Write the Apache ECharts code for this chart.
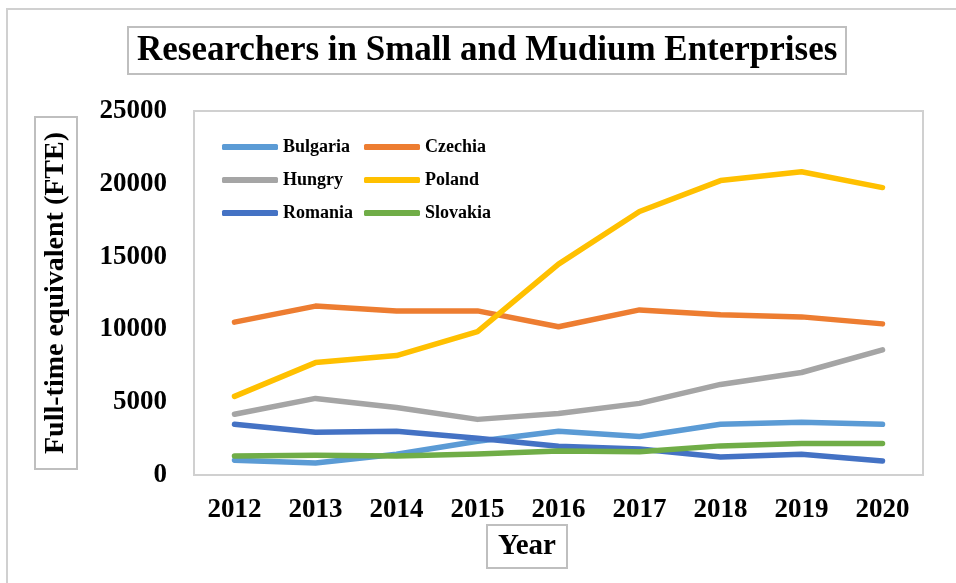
<!DOCTYPE html>
<html>
<head>
<meta charset="utf-8" />
<script type="text/javascript" src="https://cdn.jsdelivr.net/npm/echarts@6/dist/echarts.min.js"></script>
<title></title>
<style>
  html, body { margin: 0; padding: 0; background: #fff; }
  #main { width: 956px; height: 583px; }
</style>
</head>
<body>
<div id="main"></div>
<script>
// 数据
var years = ['2012', '2013', '2014', '2015', '2016', '2017', '2018', '2019', '2020'];
var bulgaria = [1020, 820, 1430, 2320, 3000, 2650, 3480, 3620, 3480];
var czechia  = [10500, 11600, 11270, 11270, 10180, 11340, 11000, 10860, 10380];
var hungry   = [4170, 5260, 4640, 3820, 4230, 4920, 6220, 7040, 8600];
var poland   = [5400, 7720, 8200, 9840, 14480, 18100, 20220, 20830, 19740];
var romania  = [3480, 2940, 3000, 2530, 1980, 1780, 1230, 1430, 960];
var slovakia = [1300, 1350, 1300, 1450, 1650, 1600, 2000, 2170, 2170];

var font = 'Liberation Serif';

function line(name, data, color) {
  return {
    name: name,
    type: 'line',
    data: data,
    showSymbol: false,
    symbol: 'none',
    color: color,
    lineStyle: { width: 5.5, color: color, cap: 'round', join: 'round' }
  };
}

var legendText = { fontFamily: font, fontSize: 18, fontWeight: 'bold', color: '#000', lineHeight: 20 };

var chart = echarts.init(document.getElementById('main'));
chart.setOption({
  animation: false,
  backgroundColor: '#fff',
  textStyle: { fontFamily: font },
  title: [{
    text: 'Researchers in Small and Mudium Enterprises',
    left: 128, top: 27,
    padding: [6, 9],
    borderColor: '#bfbfbf', borderWidth: 2,
    textStyle: { fontFamily: font, fontSize: 35, fontWeight: 'bold', color: '#000' }
  }, {
    text: 'Year',
    left: 487, top: 525,
    padding: [7, 11],
    borderColor: '#bfbfbf', borderWidth: 2,
    textStyle: { fontFamily: font, fontSize: 29, fontWeight: 'bold', color: '#000' }
  }],
  graphic: [{
    type: 'rect',
    shape: { x: 7, y: 9, width: 970, height: 600 },
    style: { fill: 'none', stroke: '#d0d0d0', lineWidth: 2 },
    silent: true
  }],
  legend: [{
    orient: 'vertical',
    left: 217, top: 132,
    icon: 'roundRect', itemWidth: 56, itemHeight: 6, itemGap: 13,
    textStyle: legendText,
    data: ['Bulgaria', 'Hungry', 'Romania']
  }, {
    orient: 'vertical',
    left: 359, top: 132,
    icon: 'roundRect', itemWidth: 56, itemHeight: 6, itemGap: 13,
    textStyle: legendText,
    data: ['Czechia', 'Poland', 'Slovakia']
  }],
  grid: {
    left: 194, top: 111, right: 33, bottom: 108,
    show: true, borderColor: '#d0d0d0', borderWidth: 2, backgroundColor: 'transparent'
  },
  xAxis: {
    type: 'category',
    data: years,
    boundaryGap: true,
    axisLine: { show: false },
    axisTick: { show: false },
    axisLabel: { margin: 22, fontFamily: font, fontSize: 27, fontWeight: 'bold', color: '#000' }
  },
  yAxis: {
    type: 'value',
    min: 0, max: 25000, interval: 5000,
    name: 'Full-time equivalent (FTE)',
    nameLocation: 'middle',
    nameRotate: 90,
    nameGap: 117,
    nameTextStyle: {
      fontFamily: font, fontSize: 28, fontWeight: 'bold', color: '#000',
      borderColor: '#bfbfbf', borderWidth: 2, padding: [7, 15]
    },
    splitLine: { show: false },
    axisLine: { show: false },
    axisTick: { show: false },
    axisLabel: {
      margin: 27, fontFamily: font, fontSize: 27, fontWeight: 'bold', color: '#000',
      formatter: function (v) { return String(v); }
    }
  },
  series: [
    line('Bulgaria', bulgaria, '#5B9BD5'),
    line('Czechia', czechia, '#ED7D31'),
    line('Hungry', hungry, '#A5A5A5'),
    line('Poland', poland, '#FFC000'),
    line('Romania', romania, '#4472C4'),
    line('Slovakia', slovakia, '#70AD47')
  ]
});
</script>
</body>
</html>
